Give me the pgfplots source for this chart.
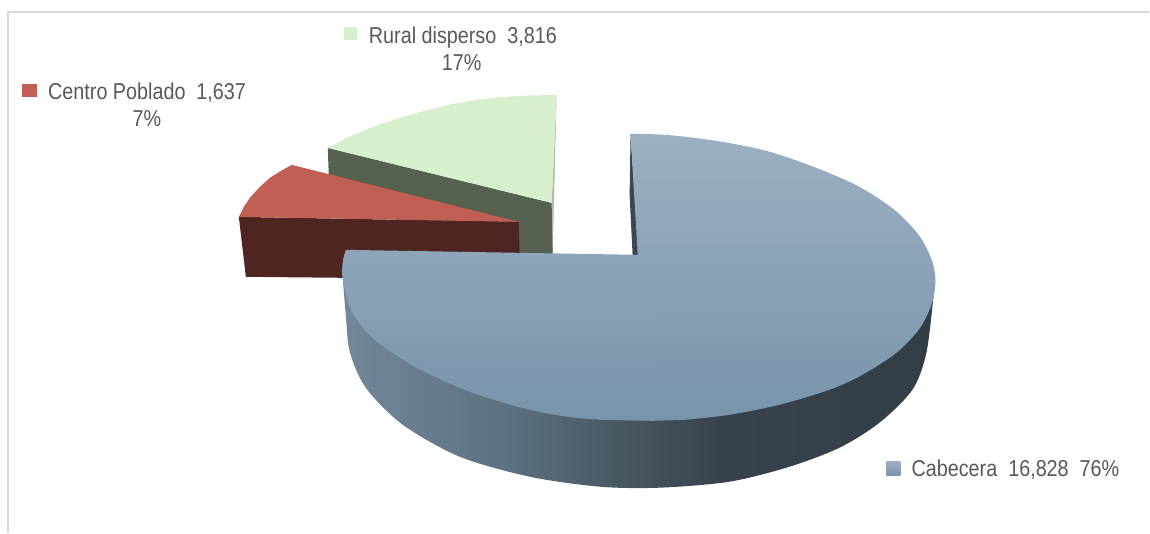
\documentclass[border=0pt]{standalone}
\usepackage{pgfplots}
\pgfplotsset{compat=1.18}
\usepackage{fontspec}
\setmainfont[FakeStretch=0.86]{Liberation Sans}
\definecolor{txt}{HTML}{595959}
\definecolor{frame}{HTML}{D9D9D9}
\definecolor{greentop}{HTML}{D8EFCD}
\definecolor{greenside}{HTML}{566150}
\definecolor{greenedge}{HTML}{ABBDA2}
\definecolor{redtop}{HTML}{C15F54}
\definecolor{redside}{HTML}{4E2520}
\definecolor{bluetop}{HTML}{9DB0C2}
\definecolor{bluemid}{HTML}{8EA5B9}
\definecolor{bluebot}{HTML}{7794AB}
\definecolor{blueedge}{HTML}{3B4852}
% side of the big slice, 25bp..75bp spans the slice's width
\pgfdeclarehorizontalshading{cabside}{100bp}{
  rgb(0bp)=(0.45,0.53,0.60);
  rgb(25bp)=(0.45,0.53,0.60);
  rgb(38bp)=(0.37,0.45,0.51);
  rgb(50bp)=(0.27,0.33,0.37);
  rgb(57bp)=(0.22,0.26,0.30);
  rgb(75bp)=(0.20,0.24,0.27);
  rgb(100bp)=(0.20,0.24,0.27)}
\begin{document}
\begin{tikzpicture}
\begin{axis}[
    scale only axis,
    width=1150pt, height=533pt,
    xmin=0, xmax=1150, ymin=0, ymax=533,
    y dir=reverse,
    hide axis,
    clip=false,
    every axis plot/.append style={no markers, draw=none, line join=round},
]
% frame
\addplot[draw=frame, line width=1.5pt] coordinates {(8,533) (8,12) (1150,12)};

% Rural disperso
\addplot[fill=greenedge] coordinates {(557,95) (553,254) (550,254) (552,203)} --cycle;
\addplot[fill=greenside] coordinates {(328,148) (552,203) (553,254) (450,254) (329,176)} --cycle;
\addplot[fill=greentop] coordinates {
  (557,95) (530,95.5) (503,97) (478,100) (453,104) (428,110) (403,117) (381,124)
  (360,132) (343,140) (328,148) (552,203)} --cycle;

% Centro Poblado
\addplot[fill=redside] coordinates {(239,217) (519,222) (520,254) (345,254) (345,278) (246,277)} --cycle;
\addplot[fill=redtop] coordinates {
  (292,165) (281,171) (270,178) (260,187) (250,198) (244,207) (239,217) (519,222)} --cycle;

% Cabecera: side, then the top in three overlapping pieces so the arcs can be smooth
\addplot[shade, shading=cabside, smooth] coordinates {
  (343,278) (346,315) (350,352) (366,388) (403,425) (460,457) (530,477) (600,487)
  (660,488) (730,482) (790,467) (840,448) (880,423) (913,390) (927,353) (934,297)} --cycle;
\addplot[fill=blueedge] coordinates {(631,134) (639,255) (633,255) (630,195)} --cycle;
\addplot[shade, top color=bluetop, bottom color=bluebot, smooth] coordinates {
  (631,134) (667,135) (717,141) (767,151) (817,168) (860,187) (895,210) (920,236)
  (933,262) (936,283) (932,305) (920,329) (897,353) (863,375) (830,390) (780,405)
  (730,415) (685,420) (648,421)} --cycle;
\addplot[shade, top color=bluemid, bottom color=bluebot, smooth] coordinates {
  (655,421) (585,419) (530,410) (470,392) (415,367) (375,340) (352,312) (343,280)
  (343,262) (346,250)} --cycle;
\addplot[shade, top color=bluemid, bottom color=bluebot] coordinates {
  (346,250) (638,255) (655,255) (655,421) (600,420)} --cycle;

% legend keys
\addplot[fill=greentop] coordinates {(344,27) (357,27) (357,40) (344,40)} --cycle;
\addplot[fill=redtop] coordinates {(22,84) (37,84) (37,97) (22,97)} --cycle;
\addplot[shade, top color=bluetop, bottom color=bluebot] coordinates {(887,462) (901,462) (901,476) (887,476)} --cycle;

\begin{scope}[every node/.style={text=txt, font=\fontsize{23}{27}\selectfont, inner sep=0pt}]
\node[anchor=base west] at (axis cs:369,44) {Rural disperso\ \ 3,816};
\node[anchor=base] at (axis cs:462,71) {17\%};
\node[anchor=base west] at (axis cs:48,100) {Centro Poblado\ \ 1,637};
\node[anchor=base] at (axis cs:147,127) {7\%};
\node[anchor=base west] at (axis cs:912,477) {Cabecera\ \ 16,828\ \ 76\%};
\end{scope}
\path[use as bounding box] (axis cs:0,0) rectangle (axis cs:1150,533);
\end{axis}
\end{tikzpicture}
\end{document}
